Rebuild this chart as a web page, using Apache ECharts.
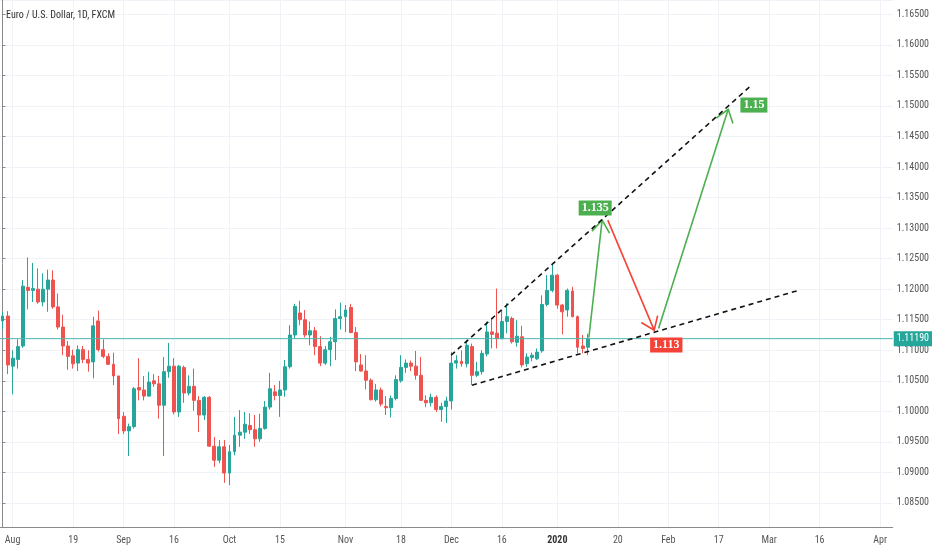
<!DOCTYPE html>
<html>
<head>
<meta charset="utf-8">
<script src="https://cdn.jsdelivr.net/npm/echarts@6/dist/echarts.min.js"></script>
<style>
html, body { margin: 0; padding: 0; background: #fff; }
#grafico { width: 932px; height: 550px; }
</style>
</head>
<body>
<div id="grafico"></div>
<script>
// dias de negociação (sem fins de semana e feriados)
const primeiroDia = '2019-07-30';
const ultimoDia = '2020-04-03';
const feriados = ['2019-12-25', '2020-01-01'];

// rótulos do eixo X: [data, texto]
const rotulosX = [
	['2019-08-01', 'Aug'], ['2019-08-19', '19'], ['2019-09-02', 'Sep'], ['2019-09-16', '16'],
	['2019-10-01', 'Oct'], ['2019-10-15', '15'], ['2019-11-01', 'Nov'], ['2019-11-18', '18'],
	['2019-12-02', 'Dec'], ['2019-12-16', '16'], ['2020-01-02', '2020'], ['2020-01-20', '20'],
	['2020-02-03', 'Feb'], ['2020-02-17', '17'], ['2020-03-02', 'Mar'], ['2020-03-16', '16'],
	['2020-04-01', 'Apr']
];

// faixa de preço visível
const precoMin = 1.08107;
const precoMax = 1.16734;
const precoAtual = 1.1119;

// velas diárias a partir de 30/07/2019: [abertura, fechamento, mínima, máxima]
const velas = [
	[1.1148, 1.1156, 1.1134, 1.1163], [1.1156, 1.1076, 1.1061, 1.1164], [1.1074, 1.1087, 1.1028, 1.1100],
	[1.1085, 1.1106, 1.1070, 1.1118], [1.1107, 1.1205, 1.1104, 1.1215], [1.1203, 1.1198, 1.1167, 1.1252],
	[1.1198, 1.1201, 1.1179, 1.1243], [1.1200, 1.1179, 1.1176, 1.1234], [1.1179, 1.1200, 1.1172, 1.1226],
	[1.1200, 1.1215, 1.1163, 1.1232], [1.1215, 1.1171, 1.1168, 1.1231], [1.1171, 1.1138, 1.1134, 1.1193],
	[1.1138, 1.1107, 1.1092, 1.1158], [1.1107, 1.1090, 1.1068, 1.1115], [1.1091, 1.1078, 1.1070, 1.1101],
	[1.1079, 1.1101, 1.1066, 1.1108], [1.1101, 1.1085, 1.1079, 1.1107], [1.1085, 1.1079, 1.1065, 1.1100],
	[1.1081, 1.1140, 1.1054, 1.1155], [1.1148, 1.1101, 1.1098, 1.1165], [1.1101, 1.1090, 1.1087, 1.1118],
	[1.1090, 1.1077, 1.1076, 1.1095], [1.1077, 1.1058, 1.1043, 1.1096], [1.1058, 1.0988, 1.0963, 1.1058],
	[1.0992, 1.0968, 1.0963, 1.0999], [1.0968, 1.0975, 1.0927, 1.0980], [1.0975, 1.1037, 1.0972, 1.1040],
	[1.1039, 1.1035, 1.1018, 1.1087], [1.1035, 1.1025, 1.1018, 1.1058], [1.1025, 1.1048, 1.1024, 1.1065],
	[1.1050, 1.1045, 1.1040, 1.1061], [1.1045, 1.1010, 1.0988, 1.1058], [1.1010, 1.1065, 1.0927, 1.1089],
	[1.1065, 1.1074, 1.1055, 1.1112], [1.1074, 1.0999, 1.0995, 1.1087], [1.0999, 1.1074, 1.0991, 1.1076],
	[1.1072, 1.1030, 1.1014, 1.1075], [1.1030, 1.1041, 1.1026, 1.1059], [1.1041, 1.1018, 1.1001, 1.1070],
	[1.1018, 1.0994, 1.0966, 1.1025], [1.0994, 1.1023, 1.0986, 1.1025], [1.1023, 1.0943, 1.0942, 1.1025],
	[1.0943, 1.0920, 1.0909, 1.0958], [1.0920, 1.0942, 1.0915, 1.0953], [1.0942, 1.0899, 1.0883, 1.0953],
	[1.0899, 1.0934, 1.0879, 1.0945], [1.0934, 1.0961, 1.0928, 1.0991], [1.0961, 1.0966, 1.0942, 1.1002],
	[1.0966, 1.0979, 1.0955, 1.0999], [1.0977, 1.0970, 1.0963, 1.0997], [1.0970, 1.0955, 1.0942, 1.0994],
	[1.0955, 1.0972, 1.0950, 1.0996], [1.0972, 1.1007, 1.0970, 1.1017], [1.1007, 1.1037, 1.1003, 1.1063],
	[1.1032, 1.1026, 1.1018, 1.1043], [1.1026, 1.1035, 1.0991, 1.1050], [1.1035, 1.1073, 1.1024, 1.1084],
	[1.1073, 1.1125, 1.1070, 1.1141], [1.1125, 1.1172, 1.1119, 1.1176], [1.1161, 1.1150, 1.1141, 1.1181],
	[1.1150, 1.1125, 1.1121, 1.1166], [1.1125, 1.1132, 1.1108, 1.1147], [1.1132, 1.1106, 1.1092, 1.1138],
	[1.1106, 1.1079, 1.1074, 1.1123], [1.1079, 1.1101, 1.1076, 1.1107], [1.1101, 1.1114, 1.1074, 1.1122],
	[1.1114, 1.1152, 1.1084, 1.1167], [1.1152, 1.1155, 1.1134, 1.1178], [1.1155, 1.1166, 1.1130, 1.1174],
	[1.1170, 1.1129, 1.1128, 1.1176], [1.1129, 1.1081, 1.1066, 1.1138], [1.1076, 1.1066, 1.1065, 1.1094],
	[1.1066, 1.1051, 1.1036, 1.1092], [1.1051, 1.1019, 1.1018, 1.1054], [1.1019, 1.1035, 1.1016, 1.1045],
	[1.1035, 1.1012, 1.1008, 1.1039], [1.1008, 1.1006, 1.0994, 1.1025], [1.1006, 1.1021, 1.0990, 1.1026],
	[1.1021, 1.1052, 1.1018, 1.1059], [1.1050, 1.1072, 1.1047, 1.1092], [1.1072, 1.1079, 1.1063, 1.1085],
	[1.1079, 1.1074, 1.1066, 1.1083], [1.1074, 1.1059, 1.1052, 1.1099], [1.1059, 1.1018, 1.1017, 1.1089],
	[1.1018, 1.1014, 1.1007, 1.1026], [1.1014, 1.1023, 1.1008, 1.1029], [1.1023, 1.1003, 1.0999, 1.1026],
	[1.1003, 1.1008, 1.0983, 1.1014], [1.1008, 1.1017, 1.0981, 1.1024], [1.1017, 1.1079, 1.1003, 1.1097],
	[1.1079, 1.1083, 1.1070, 1.1092], [1.1082, 1.1078, 1.1073, 1.1100], [1.1078, 1.1108, 1.1072, 1.1117],
	[1.1106, 1.1059, 1.1043, 1.1111], [1.1059, 1.1065, 1.1056, 1.1081], [1.1065, 1.1095, 1.1060, 1.1100],
	[1.1094, 1.1130, 1.1090, 1.1147], [1.1130, 1.1126, 1.1103, 1.1152], [1.1128, 1.1119, 1.1103, 1.1201],
	[1.1119, 1.1147, 1.1118, 1.1166], [1.1147, 1.1155, 1.1128, 1.1177], [1.1152, 1.1114, 1.1111, 1.1155],
	[1.1113, 1.1123, 1.1106, 1.1149], [1.1122, 1.1076, 1.1072, 1.1140], [1.1078, 1.1089, 1.1073, 1.1095],
	[1.1088, 1.1092, 1.1082, 1.1096], [1.1086, 1.1097, 1.1084, 1.1103], [1.1099, 1.1175, 1.1096, 1.1190],
	[1.1175, 1.1198, 1.1172, 1.1223], [1.1198, 1.1223, 1.1195, 1.1241], [1.1223, 1.1174, 1.1168, 1.1225],
	[1.1174, 1.1163, 1.1126, 1.1176], [1.1166, 1.1198, 1.1155, 1.1201], [1.1197, 1.1155, 1.1154, 1.1204],
	[1.1155, 1.1105, 1.1095, 1.1157], [1.1107, 1.1103, 1.1095, 1.1125], [1.1105, 1.1119, 1.1092, 1.1127]
];

// linhas de tendência (posição do dia, preço)
const tendenciaSuperior = [[88.94, 1.10919], [148.08, 1.15309]];
const tendenciaInferior = [[93.09, 1.10428], [157.95, 1.11984]];

// projeções: [dia inicial, preço inicial, dia final, preço final]
const projecoesAlta = [
	[116.25, 1.11209, 118.88, 1.13131],
	[130.07, 1.11357, 143.88, 1.14944]
];
const projecoesBaixa = [
	[120.0, 1.13131, 129.2, 1.11329]
];

// alvos: [dia, preço, texto]
const alvosAlta = [[117.5, 1.13327, '1.135'], [148.97, 1.15014, '1.15']];
const alvosBaixa = [[131.6, 1.11088, '1.113']];

const VERDE = '#26a69a';
const VERMELHO = '#ef5350';
const SETA_VERDE = '#4caf50';
const SETA_VERMELHA = '#f44336';
const FONTE = "'Liberation Sans Narrow', 'Roboto Condensed', Roboto, sans-serif";

function diasUteis(de, ate) {
	const dias = [];
	const d = new Date(de + 'T00:00:00Z');
	const fim = new Date(ate + 'T00:00:00Z');
	while (d <= fim) {
		const s = d.toISOString().slice(0, 10);
		const wd = d.getUTCDay();
		if (wd !== 0 && wd !== 6 && !feriados.includes(s)) dias.push(s);
		d.setUTCDate(d.getUTCDate() + 1);
	}
	return dias;
}

const dias = diasUteis(primeiroDia, ultimoDia);
const mapaRotulos = Object.fromEntries(rotulosX);
const ehRotulo = (idx, val) => mapaRotulos[val] !== undefined;

function desenharSeta(cor) {
	return function (params, api) {
		const p0 = api.coord([api.value(0), api.value(1)]);
		const p1 = api.coord([api.value(2), api.value(3)]);
		const ang = Math.atan2(p1[1] - p0[1], p1[0] - p0[0]);
		const tam = 15, abertura = 0.63;
		const a = [p1[0] - tam * Math.cos(ang - abertura), p1[1] - tam * Math.sin(ang - abertura)];
		const b = [p1[0] - tam * Math.cos(ang + abertura), p1[1] - tam * Math.sin(ang + abertura)];
		return {
			type: 'group',
			children: [
				{ type: 'line', shape: { x1: p0[0], y1: p0[1], x2: p1[0], y2: p1[1] },
					style: { stroke: cor, lineWidth: 1.6 } },
				{ type: 'polyline', shape: { points: [a, p1, b] },
					style: { stroke: cor, fill: null, lineWidth: 1.6 } }
			]
		};
	};
}

function desenharAlvo(cor, alvos) {
	return function (params, api) {
		const p = api.coord([api.value(0), api.value(1)]);
		return {
			type: 'text',
			x: p[0], y: p[1],
			style: {
				text: alvos[params.dataIndex][2],
				fill: '#fff',
				backgroundColor: cor,
				padding: [2, 3, 1, 3],
				font: "bold 12px 'Liberation Serif', 'DejaVu Serif', serif",
				align: 'center',
				verticalAlign: 'middle'
			}
		};
	};
}

const grafico = echarts.init(document.getElementById('grafico'));

const option = {
	animation: false,
	backgroundColor: '#fff',
	graphic: [{
		type: 'text',
		left: 6, top: 10, z: 10,
		style: {
			text: 'Euro / U.S. Dollar, 1D, FXCM',
			fill: '#333',
			font: "10px 'Liberation Sans Narrow', 'Roboto Condensed', Roboto, sans-serif"
		}
	}],
	grid: { left: 0, right: 35, top: 0, bottom: 23 },
	xAxis: [{
		type: 'category',
		data: dias,
		boundaryGap: true,
		axisLine: { lineStyle: { color: '#8a8a8a', width: 1 } },
		axisTick: { interval: ehRotulo, alignWithLabel: true, length: 3, lineStyle: { color: '#8a8a8a' } },
		axisLabel: {
			interval: ehRotulo,
			margin: 8,
			color: '#555',
			fontSize: 10,
			fontFamily: FONTE,
			formatter: v => mapaRotulos[v] === '2020' ? '{b|2020}' : (mapaRotulos[v] || ''),
			rich: { b: { fontWeight: 'bold', color: '#333', fontSize: 10, fontFamily: FONTE } }
		},
		splitLine: { show: true, interval: ehRotulo, alignWithLabel: true, lineStyle: { color: '#eff2f6' } }
	}, {
		type: 'value',
		min: -0.5,
		max: dias.length - 0.5,
		show: false
	}],
	yAxis: {
		type: 'value',
		position: 'right',
		min: precoMin,
		max: precoMax,
		splitNumber: 17,
		axisLine: { show: true, lineStyle: { color: '#8a8a8a', width: 1 } },
		axisTick: { show: true, length: 3, lineStyle: { color: '#8a8a8a' } },
		axisLabel: {
			showMinLabel: false,
			showMaxLabel: false,
			margin: 4,
			color: '#555',
			fontSize: 10,
			fontFamily: FONTE,
			formatter: v => v.toFixed(5)
		},
		splitLine: { show: true, lineStyle: { color: '#eff2f6' } }
	},
	series: [{
		name: 'EURUSD',
		type: 'candlestick',
		data: velas,
		barWidth: '68%',
		itemStyle: {
			color: VERDE, color0: VERMELHO,
			borderColor: VERDE, borderColor0: VERMELHO,
			borderWidth: 1
		}
	}, {
		name: 'precoAtual',
		type: 'line',
		xAxisIndex: 1,
		data: [[-0.5, precoAtual], [dias.length - 0.5, precoAtual]],
		symbol: 'none',
		silent: true,
		lineStyle: { color: '#4db6ac', width: 1 },
		endLabel: {
			show: true,
			distance: 1,
			formatter: precoAtual.toFixed(5),
			backgroundColor: VERDE,
			color: '#fff',
			padding: [3, 3, 2, 3],
			fontSize: 10,
			fontFamily: FONTE
		}
	}, {
		name: 'tendenciaSuperior',
		type: 'line',
		xAxisIndex: 1,
		data: tendenciaSuperior,
		symbol: 'none',
		lineStyle: { color: '#111', width: 1.6, type: [5, 4] }
	}, {
		name: 'tendenciaInferior',
		type: 'line',
		xAxisIndex: 1,
		data: tendenciaInferior,
		symbol: 'none',
		lineStyle: { color: '#111', width: 1.6, type: [5, 4] }
	}, {
		name: 'projecoesAlta',
		type: 'custom',
		xAxisIndex: 1,
		data: projecoesAlta,
		encode: { x: [0, 2], y: [1, 3] },
		renderItem: desenharSeta(SETA_VERDE)
	}, {
		name: 'projecoesBaixa',
		type: 'custom',
		xAxisIndex: 1,
		data: projecoesBaixa,
		encode: { x: [0, 2], y: [1, 3] },
		renderItem: desenharSeta(SETA_VERMELHA)
	}, {
		name: 'alvosAlta',
		type: 'custom',
		xAxisIndex: 1,
		data: alvosAlta.map(d => [d[0], d[1]]),
		encode: { x: 0, y: 1 },
		renderItem: desenharAlvo(SETA_VERDE, alvosAlta),
		z: 5
	}, {
		name: 'alvosBaixa',
		type: 'custom',
		xAxisIndex: 1,
		data: alvosBaixa.map(d => [d[0], d[1]]),
		encode: { x: 0, y: 1 },
		renderItem: desenharAlvo(SETA_VERMELHA, alvosBaixa),
		z: 5
	}]
};

grafico.setOption(option);
</script>
</body>
</html>
